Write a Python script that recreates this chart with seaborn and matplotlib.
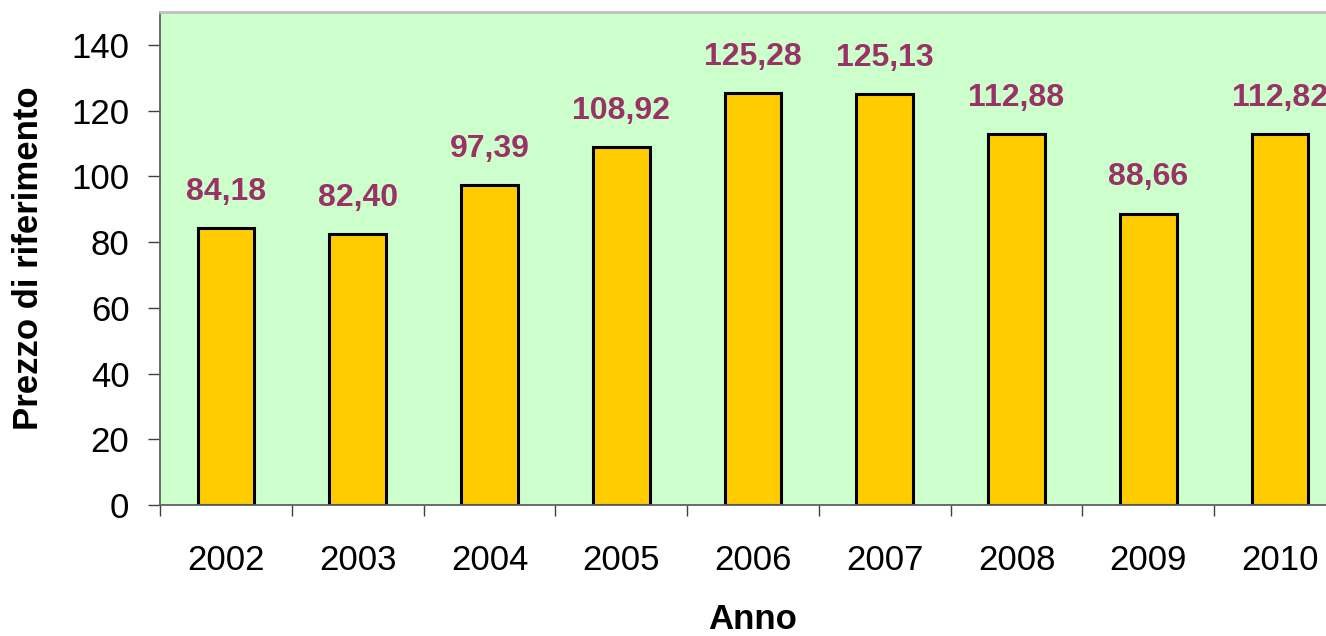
import matplotlib
matplotlib.use("Agg")
import matplotlib.pyplot as plt
import pandas as pd
import seaborn as sns

# Data
years = ["2002", "2003", "2004", "2005", "2006", "2007", "2008", "2009", "2010"]
prices = [84.18, 82.40, 97.39, 108.92, 125.28, 125.13, 112.88, 88.66, 112.82]
price_labels = ["84,18", "82,40", "97,39", "108,92", "125,28",
                "125,13", "112,88", "88,66", "112,82"]

df = pd.DataFrame({"Anno": years, "Prezzo": prices})

sns.set_style("white")
plt.rcParams["font.family"] = ["Liberation Sans", "DejaVu Sans"]
plt.rcParams["text.color"] = "black"
plt.rcParams["axes.labelcolor"] = "black"
plt.rcParams["xtick.color"] = "black"
plt.rcParams["ytick.color"] = "black"

fig = plt.figure(figsize=(13.26, 6.36), dpi=100)
# The plot area runs past the right edge of the picture, as in the reference
ax = fig.add_axes([160 / 1326, 131 / 636, 1186 / 1326, 493 / 636])
ax.set_facecolor("#CCFFCC")

sns.barplot(data=df, x="Anno", y="Prezzo", color="#FFCC00", width=0.43,
            edgecolor="black", linewidth=2.2, saturation=1, ax=ax)

# Value labels above the bars
for i, (v, lab) in enumerate(zip(prices, price_labels)):
    ax.annotate(lab, (i, v), xytext=(0, 26), textcoords="offset points",
                ha="center", va="center", fontsize=23, fontweight="bold",
                color="#993366")

ax.set_ylim(0, 150)
ax.set_xlim(-0.5, len(years) - 0.5)
ax.set_yticks(range(0, 141, 20))
ax.tick_params(axis="y", labelsize=25, length=9, width=1, color="#404040",
               labelcolor="black", pad=13, left=True, direction="out")

# Category labels without tick marks, tick marks at the category borders
ax.set_xticks(range(len(years)))
ax.set_xticklabels(years)
ax.tick_params(axis="x", which="major", length=0, labelsize=25, pad=28,
               labelcolor="black")
ax.set_xticks([i - 0.5 for i in range(len(years) + 1)], minor=True)
ax.tick_params(axis="x", which="minor", length=8, width=1, color="#404040",
               direction="out", bottom=True)

ax.set_xlabel("Anno", fontsize=25, fontweight="bold", labelpad=19)
ax.set_ylabel("Prezzo di riferimento", fontsize=25, fontweight="bold",
              labelpad=19)

for side in ["left", "bottom"]:
    ax.spines[side].set_color("#606060")
    ax.spines[side].set_linewidth(1.3)
ax.spines["top"].set_color("#C0C0C0")
ax.spines["top"].set_linewidth(2)
ax.spines["right"].set_color("#C0C0C0")

fig.savefig("out.png", dpi=100)
